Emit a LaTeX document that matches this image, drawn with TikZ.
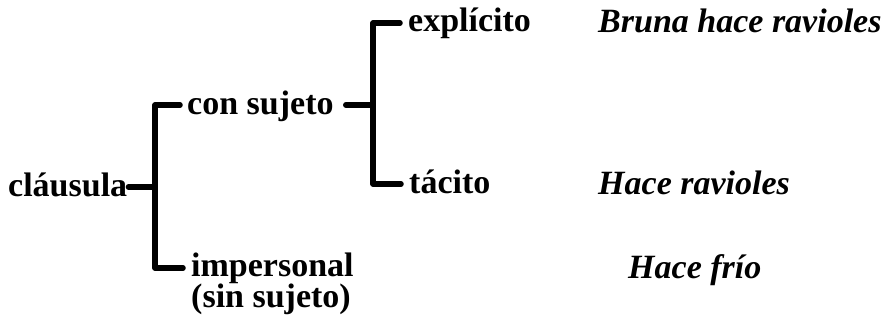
\documentclass[tikz,border=0pt]{standalone}
\usepackage{fontspec}
\setmainfont{Liberation Serif}
\usetikzlibrary{calc}
\begin{document}
\begin{tikzpicture}[x=1pt,y=1pt,
  lbl/.style={inner sep=0pt, anchor=base west, align=left, font=\fontsize{34}{29}\selectfont\bfseries},
  ex/.style={lbl, font=\fontsize{34}{29}\selectfont\bfseries\itshape},
  br/.style={line width=5.5pt, line cap=round, line join=round}]
\useasboundingbox (0,0) rectangle (889,-320);
\node[lbl] (cl) at (8,-197) {cláusula};
\node[lbl] (cs) at (187,-115) {con sujeto};
\node[lbl] (imp) at (191,-308) {impersonal\\(sin sujeto)};
\node[lbl] (exp) at (408,-32) {explícito};
\node[lbl] (tac) at (409,-194) {tácito};
\node[ex] (e1) at (598,-33) {Bruna hace ravioles};
\node[ex] (e2) at (598,-195) {Hace ravioles};
\node[ex] (e3) at (628,-279) {Hace frío};
\coordinate (j1) at (155,-187);
\coordinate (j2) at (373,-105);
\draw[br] ($(cl.base east)+(1,10)$) -- (j1);
\draw[br] ($(cs.base west)+(-7,10)$) -| (j1) |- ($(imp.base west)+(-8,40)$);
\draw[br] ($(cs.base east)+(12,10)$) -- (j2);
\draw[br] ($(exp.base west)+(-8,9)$) -| (j2) |- ($(tac.base west)+(-8,10)$);
\end{tikzpicture}
\end{document}
